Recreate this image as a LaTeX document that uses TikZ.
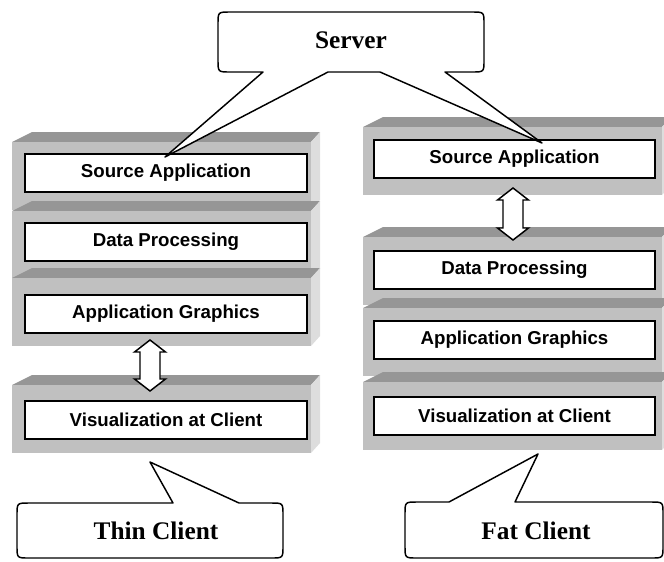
\documentclass[tikz,border=0pt]{standalone}
\usepackage{fontspec}
\setmainfont{Liberation Serif}
\setsansfont{Liberation Sans}
\usetikzlibrary{calc}
\definecolor{slabtop}{HTML}{969696}
\definecolor{slabfront}{HTML}{C0C0C0}
\definecolor{slabside}{HTML}{DDDDDD}
\def\slab(#1,#2){
	\fill[slabtop] (#1,#2) -- (#1+20,#2-10) -- (#1+308,#2-10) -- (#1+299,#2) -- cycle;
	\fill[slabside] (#1+299,#2) -- (#1+308,#2-10) -- (#1+308,#2+58) -- (#1+299,#2+68) -- cycle;
	\fill[slabfront] (#1,#2) rectangle (#1+299,#2+68);}
\def\updown(#1)(#2){\draw[line width=1.1pt, fill=white] (#1) -- ($(#1)+(15.5,12)$) -- ($(#1)+(10,12)$) -- ($(#2)+(10,-12)$) -- ($(#2)+(15.5,-12)$) -- (#2) -- ($(#2)+(-15.5,-12)$) -- ($(#2)+(-10,-12)$) -- ($(#1)+(-10,12)$) -- ($(#1)+(-15.5,12)$) -- cycle;}

\begin{document}
\begin{tikzpicture}[x=0.75pt, y=-0.75pt,
		layer/.style={draw, line width=1.5pt, fill=white, minimum height=28.5pt, inner sep=0pt, font=\sffamily\bfseries\fontsize{14}{16}\selectfont},
		callout/.style={draw, line width=1.1pt, fill=white, line join=round},
		calltext/.style={inner sep=0pt, font=\rmfamily\bfseries\fontsize{19}{22}\selectfont}]
			%%%%% START %%%%%
			\clip (0,0) rectangle (664,561);
			
			% thin client stack
			\slab(12,142);
			\node[layer, minimum width=211.5pt] (lsrc) at (166,172.5) {Source Application};
			\slab(12,211);
			\node[layer, minimum width=211.5pt] (ldata) at (166,241.5) {Data Processing};
			\slab(12,278);
			\node[layer, minimum width=211.5pt] (lgfx) at (166,314) {Application Graphics};
			\slab(12,385);
			\node[layer, minimum width=211.5pt] (lvis) at (166,419.5) {Visualization at Client};
			
			% fat client stack
			\slab(363,127);
			\node[layer, minimum width=210.75pt] (rsrc) at (514.5,159) {Source Application};
			\slab(363,237);
			\node[layer, minimum width=210.75pt] (rdata) at (514.5,270) {Data Processing};
			\slab(363,308);
			\node[layer, minimum width=210.75pt] (rgfx) at (514.5,340) {Application Graphics};
			\slab(363,382);
			\node[layer, minimum width=210.75pt] (rvis) at (514.5,416) {Visualization at Client};
			
			% links
			\coordinate (la) at (150,340);
			\coordinate (lb) at (150,391);
			\updown(la)(lb);
			\coordinate (ra) at (513,188);
			\coordinate (rb) at (513,240);
			\updown(ra)(rb);
			
			% callouts
			\draw[callout] (263,72) -- (165,157) -- (328,72) -- (380,72) -- (542,143) -- (445,72) -- (472,72) .. controls (484,72) .. (484,60) -- (484,24) .. controls (484,12) .. (472,12) -- (230,12) .. controls (218,12) .. (218,24) -- (218,60) .. controls (218,72) .. (230,72) -- cycle;
			\node[calltext] (server) at (351,40.5) {Server};
			
			\draw[callout] (173,503) -- (150,462) -- (239,503) -- (271,503) .. controls (283,503) .. (283,515) -- (283,546) .. controls (283,558) .. (271,558) -- (29,558) .. controls (17,558) .. (17,546) -- (17,515) .. controls (17,503) .. (29,503) -- cycle;
			\node[calltext] (thin) at (156,531) {Thin Client};
			
			\draw[callout] (449,502) -- (538,454) -- (515,502) -- (651,502) .. controls (663,502) .. (663,514) -- (663,546) .. controls (663,558) .. (651,558) -- (417,558) .. controls (405,558) .. (405,546) -- (405,514) .. controls (405,502) .. (417,502) -- cycle;
			\node[calltext] (fat) at (536,531) {Fat Client};
			
			%%%%% END %%%%%
\end{tikzpicture}
\end{document}
